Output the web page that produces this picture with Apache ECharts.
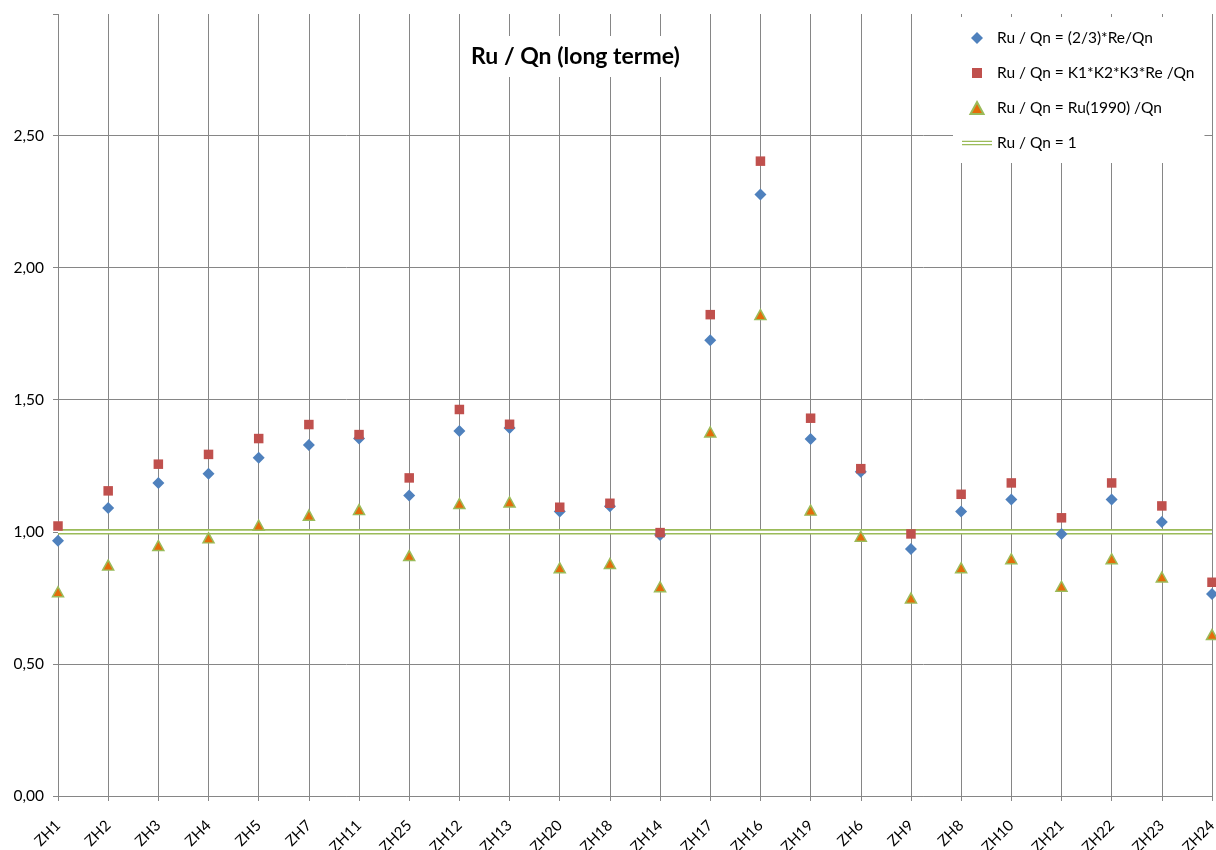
<!DOCTYPE html>
<html>
<head>
<meta charset="utf-8">
<script src="https://cdn.jsdelivr.net/npm/echarts@6/dist/echarts.min.js"></script>
<style>
html,body{margin:0;padding:0;background:#fff;}
#chart{width:1216px;height:850px;}
</style>
</head>
<body>
<div id="chart"></div>
<script>
var categories = ['ZH1','ZH2','ZH3','ZH4','ZH5','ZH7','ZH11','ZH25','ZH12','ZH13','ZH20','ZH18','ZH14','ZH17','ZH16','ZH19','ZH6','ZH9','ZH8','ZH10','ZH21','ZH22','ZH23','ZH24'];
var seriesBlue = [0.966,1.090,1.185,1.220,1.280,1.329,1.353,1.137,1.382,1.393,1.077,1.097,0.988,1.725,2.277,1.351,1.227,0.935,1.077,1.122,0.992,1.122,1.037,0.765];
var seriesRed = [1.022,1.155,1.256,1.293,1.353,1.406,1.368,1.204,1.463,1.407,1.093,1.108,0.997,1.822,2.403,1.430,1.239,0.992,1.142,1.185,1.053,1.185,1.098,0.809];
var seriesTri = [0.773,0.874,0.948,0.977,1.025,1.063,1.084,0.910,1.107,1.113,0.864,0.880,0.792,1.378,1.822,1.082,0.983,0.749,0.864,0.898,0.794,0.898,0.829,0.611];
var seriesRef = [1,1,1,1,1,1,1,1,1,1,1,1,1,1,1,1,1,1,1,1,1,1,1,1];
var yTicks = [0, 0.5, 1, 1.5, 2, 2.5];
var names = ['Ru / Qn = (2/3)*Re/Qn','Ru / Qn = K1*K2*K3*Re /Qn','Ru / Qn = Ru(1990) /Qn','Ru / Qn = 1'];
var titleText = 'Ru / Qn (long terme)';

var font = 'Lato, "Open Sans", sans-serif';
var gridColor = '#868686';
var chart = echarts.init(document.getElementById('chart'));
chart.setOption({
  animation: false,
  backgroundColor: '#fff',
  title: {
    text: titleText,
    left: 465, top: 36,
    padding: [9, 22, 9, 6],
    backgroundColor: '#fff',
    textStyle: {fontFamily: font, fontWeight: 'bold', fontSize: 23, color: '#000'}
  },
  legend: {
    orient: 'vertical',
    left: 953, top: 17,
    padding: [13, 10, 12, 9],
    backgroundColor: '#fff',
    itemWidth: 30, itemHeight: 12, itemGap: 19,
    textStyle: {fontFamily: font, fontSize: 15.5, color: '#000', lineHeight: 15},
    data: [
      {name: names[0], icon: 'path://M6,0L12,6L6,12L0,6Z'},
      {name: names[1], icon: 'path://M1,1H11V11H1Z M0,0H0.01V0.01H0Z M12,12H11.99V11.99H12Z'},
      {name: names[2], icon: 'path://M6,0L12,11H0Z'},
      {name: names[3], icon: 'path://M0,0H33V1.4H0Z M0,3.4H33V4.8H0Z', itemStyle: {color: '#9BBB59', borderWidth: 0}}
    ]
  },
  grid: {left: 58, right: 4, top: 14, bottom: 54, containLabel: false, outerBoundsMode: 'none'},
  xAxis: {
    type: 'category',
    data: categories,
    boundaryGap: false,
    axisLine: {show: true, lineStyle: {color: gridColor, width: 1}},
    axisTick: {show: true, length: 5, alignWithLabel: true, lineStyle: {color: gridColor}},
    splitLine: {show: true, interval: 0, lineStyle: {color: gridColor, width: 1}},
    axisLabel: {interval: 0, rotate: 45, margin: 27, fontFamily: font, fontSize: 15, color: '#000', hideOverlap: false}
  },
  yAxis: {
    type: 'value',
    min: yTicks[0], max: 2.96, interval: 0.5,
    axisLine: {show: false},
    axisTick: {show: true, length: 5, lineStyle: {color: gridColor}},
    splitLine: {show: true, showMaxLine: false, lineStyle: {color: gridColor, width: 1}},
    axisLabel: {
      margin: 14, fontFamily: font, fontSize: 15.5, color: '#000',
      formatter: function (v) {
        for (var i = 0; i < yTicks.length; i++) {
          if (Math.abs(v - yTicks[i]) < 1e-6) return yTicks[i].toFixed(2).replace('.', ',');
        }
        return '';
      }
    }
  },
  series: [
    {
      name: names[3], type: 'line', data: seriesRef, symbol: 'none', showSymbol: false,
      lineStyle: {color: '#9BBB59', width: 5.5}, itemStyle: {color: '#9BBB59'}, z: 2
    },
    {
      name: '_refInner', type: 'line', data: seriesRef, symbol: 'none', showSymbol: false,
      lineStyle: {color: '#ffffff', width: 2.2}, z: 2, silent: true
    },
    {
      name: names[0], type: 'scatter', data: seriesBlue, symbol: 'diamond', symbolSize: [12, 12],
      itemStyle: {color: '#4F81BD', opacity: 1}, z: 3
    },
    {
      name: names[1], type: 'scatter', data: seriesRed, symbol: 'rect', symbolSize: [9.5, 9.5],
      itemStyle: {color: '#C0504D', opacity: 1}, z: 3
    },
    {
      name: names[2], type: 'scatter', data: seriesTri, symbol: 'triangle', symbolSize: [11, 10],
      itemStyle: {color: '#E46C0A', borderColor: '#9BBB59', borderWidth: 1.5, opacity: 1}, z: 3
    }
  ]
});
</script>
</body>
</html>
